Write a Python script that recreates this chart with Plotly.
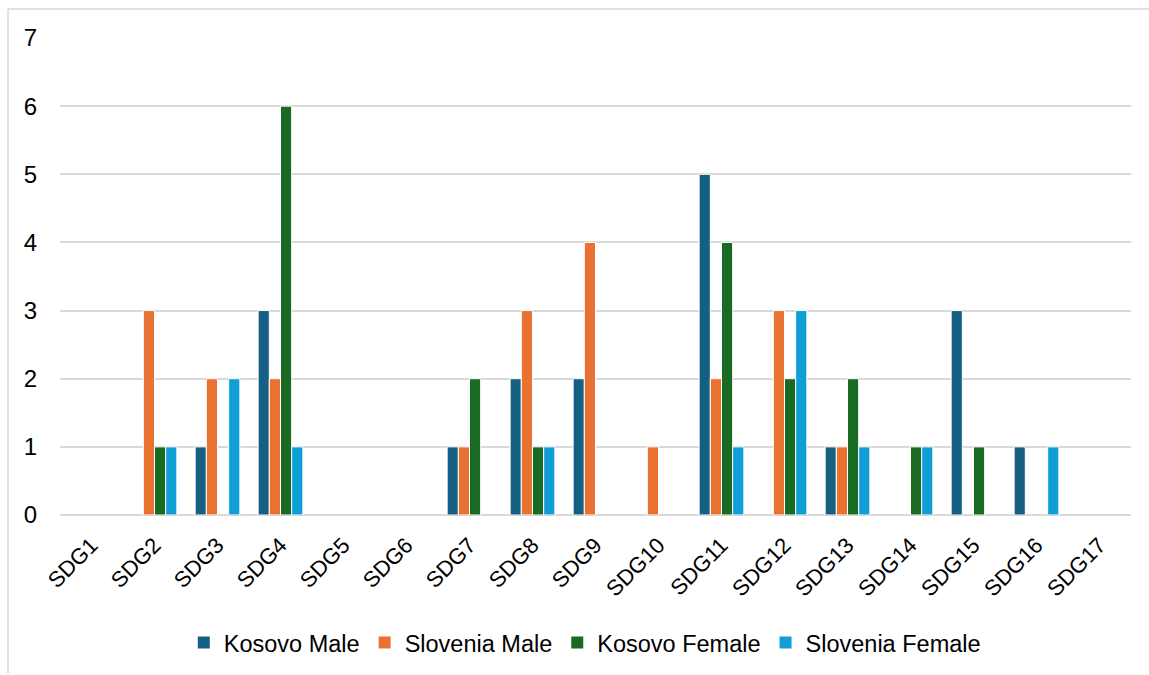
import plotly.graph_objects as go

categories = [f"SDG{i}" for i in range(1, 18)]

kosovo_male = [0, 0, 1, 3, 0, 0, 1, 2, 2, 0, 5, 0, 1, 0, 3, 1, 0]
slovenia_male = [0, 3, 2, 2, 0, 0, 1, 3, 4, 1, 2, 3, 1, 0, 0, 0, 0]
kosovo_female = [0, 1, 0, 6, 0, 0, 2, 1, 0, 0, 4, 2, 2, 1, 1, 0, 0]
slovenia_female = [0, 1, 2, 1, 0, 0, 0, 1, 0, 0, 1, 3, 1, 1, 0, 1, 0]

series = [
    ("Kosovo Male", kosovo_male, "#156082"),
    ("Slovenia Male", slovenia_male, "#E97132"),
    ("Kosovo Female", kosovo_female, "#196B24"),
    ("Slovenia Female", slovenia_female, "#0F9ED5"),
]

W, H = 1149, 675
ML, MR, MT, MB = 60, 18, 38, 159

fig = go.Figure()
for name, vals, color in series:
    fig.add_trace(go.Bar(
        x=categories, y=vals, name=name,
        marker=dict(
            color=color,
            # thin white outline, skipped on empty bars so the baseline stays clean
            line=dict(color="white", width=[1 if v > 0 else 0 for v in vals]),
        ),
    ))

family = "Liberation Sans, Arial, sans-serif"
font_y = dict(family=family, size=24, color="#000000")
font_x = dict(family=family, size=22, color="#000000")
font_leg = dict(family=family, size=23.5, color="#000000")

fig.update_layout(
    width=W, height=H,
    margin=dict(l=ML, r=MR, t=MT, b=MB, pad=0),
    paper_bgcolor="white", plot_bgcolor="white",
    font=font_y,
    barmode="group", bargap=0.29, bargroupgap=0,
    showlegend=True,
    legend=dict(
        orientation="h", x=0.49, xanchor="center", y=-0.265, yanchor="middle",
        font=font_leg, itemwidth=30, traceorder="normal",
    ),
    xaxis=dict(
        tickangle=-45, showgrid=False, showline=False, ticks="",
        ticklabelstandoff=12, tickfont=font_x,
    ),
    yaxis=dict(
        range=[0, 7], dtick=1, showgrid=True, gridcolor="#D9D9D9", gridwidth=1.5,
        zeroline=True, zerolinecolor="#D9D9D9", zerolinewidth=1.5,
        showline=False, ticks="", ticklabelstandoff=22, tickfont=font_y,
    ),
    shapes=[
        # chart frame (left and top edges)
        dict(type="line", xref="paper", yref="paper",
             x0=(8 - ML) / (W - ML - MR), x1=(8 - ML) / (W - ML - MR),
             y0=1 + (MT - 9) / (H - MT - MB), y1=-(MB) / (H - MT - MB),
             line=dict(color="#D9D9D9", width=1.5)),
        dict(type="line", xref="paper", yref="paper",
             x0=(8 - ML) / (W - ML - MR), x1=(W + 5 - ML) / (W - ML - MR),
             y0=1 + (MT - 9) / (H - MT - MB), y1=1 + (MT - 9) / (H - MT - MB),
             line=dict(color="#D9D9D9", width=1.5)),
    ],
)

fig.write_html("out.html")
